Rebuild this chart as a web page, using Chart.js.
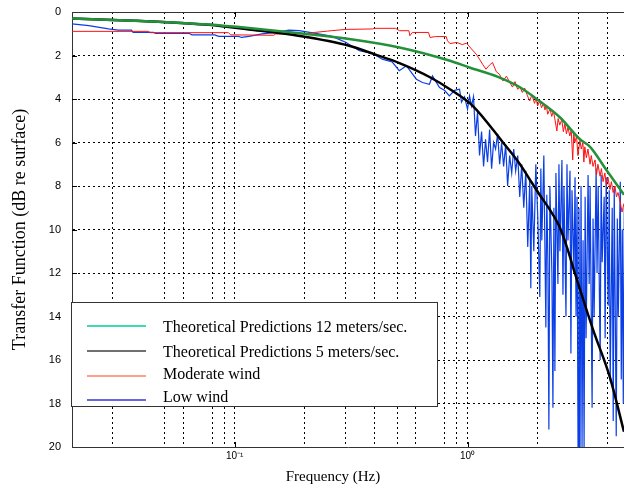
<!DOCTYPE html>
<html>
<head>
<meta charset="utf-8">
<script src="https://cdn.jsdelivr.net/npm/chart.js@4"></script>
<style>
html, body { margin: 0; padding: 0; background: #fff; }
canvas { display: block; }
</style>
</head>
<body>
<canvas id="myChart" width="624" height="489"></canvas>
<script>
"use strict"

// Theorie 12 m/s (gruen)
const freq12 = [0.02, 0.03, 0.047, 0.077, 0.115, 0.19, 0.31, 0.51, 0.84, 1.02, 1.35, 1.68, 1.98, 2.49, 3.04, 3.36, 3.97, 4.7]
const db12 = [0.3, 0.37, 0.45, 0.58, 0.74, 0.98, 1.24, 1.63, 2.24, 2.55, 2.98, 3.46, 4.0, 4.84, 5.85, 6.2, 7.3, 8.4]

// Theorie 5 m/s (schwarz)
const freq5 = [0.02, 0.03, 0.047, 0.077, 0.115, 0.19, 0.31, 0.40, 0.51, 0.69, 0.84, 1.05, 1.42, 1.68, 1.85, 2.04, 2.26, 2.49, 2.67, 2.89, 3.46, 4.09, 4.7]
const db5 = [0.3, 0.37, 0.45, 0.59, 0.8, 1.1, 1.55, 1.95, 2.35, 3.0, 3.55, 4.3, 6.0, 7.0, 7.7, 8.4, 9.1, 9.9, 10.8, 12.0, 14.6, 16.8, 19.3]

// Moderate wind (rot)
const modFreq = [0.02, 0.0426, 0.0434, 0.094, 0.096, 0.147, 0.15, 0.20, 0.22, 0.25, 0.26, 0.30, 0.39, 0.40, 0.49, 0.51, 0.56, 0.565, 0.58, 0.60, 0.68, 0.69, 0.73, 0.81, 0.82, 0.84, 0.90, 0.95, 0.99, 1.04, 1.09, 1.13, 1.16, 1.20, 1.24, 1.28, 1.33, 1.37,
  1.42, 1.47, 1.52, 1.56, 1.60, 1.64, 1.68, 1.72, 1.76, 1.81, 1.85, 1.89, 1.94, 1.97, 2.00, 2.04, 2.08, 2.12, 2.15, 2.18, 2.21, 2.26, 2.30, 2.34, 2.37, 2.42, 2.45, 2.49, 2.54, 2.58, 2.62, 2.66, 2.70, 2.75, 2.79, 2.83, 2.86, 2.89, 2.94, 2.98,
  3.04, 3.08, 3.13, 3.16, 3.19, 3.24, 3.29, 3.36, 3.40, 3.46, 3.53, 3.58, 3.63, 3.71, 3.76, 3.82, 3.89, 3.95, 4.01, 4.09, 4.15, 4.22, 4.30, 4.36, 4.43, 4.52, 4.61, 4.70]
const modDb = [0.89, 0.89, 0.95, 0.95, 1.05, 1.07, 1.01, 1.0, 0.94, 0.88, 0.86, 0.8, 0.78, 0.75, 0.75, 0.86, 0.86, 1.09, 0.94, 0.94, 0.94, 1.17, 1.13, 1.13, 1.32, 1.45, 1.40, 1.50, 1.43, 1.70, 1.94, 2.2, 2.4, 2.63, 2.45, 2.32, 2.75, 2.86,
  3.17, 2.95, 3.25, 3.45, 3.2, 3.55, 3.45, 3.7, 3.5, 3.86, 4.09, 3.8, 4.2, 3.95, 4.32, 4.1, 4.4, 4.2, 4.5, 4.3, 4.7, 4.45, 4.8, 4.55, 4.9, 5.47, 4.9, 5.2, 4.95, 5.5, 5.15, 5.6, 5.3, 5.7, 5.45, 6.8, 5.6, 6.0, 5.7, 6.6,
  5.9, 6.3, 6.0, 6.9, 6.2, 6.7, 6.3, 7.0, 6.6, 7.1, 6.8, 7.5, 7.0, 7.55, 7.2, 7.8, 7.4, 8.0, 7.6, 8.16, 7.8, 8.3, 8.0, 8.5, 8.3, 8.7, 9.2, 8.8]

// Low wind (blau)
const lowFreq = [0.02, 0.0236, 0.0287, 0.0316, 0.036, 0.0366, 0.0448, 0.0457, 0.0636, 0.0655, 0.082, 0.0854, 0.104, 0.107, 0.115, 0.131, 0.150, 0.171, 0.189, 0.223, 0.262, 0.301, 0.343, 0.390, 0.430, 0.475, 0.509, 0.546, 0.603, 0.640, 0.686, 0.707, 0.758, 0.796, 0.836, 0.879, 0.924, 0.942, 0.971,
  1.000, 1.020, 1.040, 1.061, 1.082, 1.104, 1.126, 1.149, 1.172, 1.195, 1.219, 1.244, 1.269, 1.294, 1.320, 1.347, 1.374, 1.401, 1.429, 1.458, 1.487, 1.517, 1.548, 1.579, 1.610, 1.643, 1.676, 1.709, 1.744, 1.779, 1.814, 1.851, 1.87, 1.888, 1.926, 1.965,
  2.004, 2.044, 2.065, 2.085, 2.127, 2.170, 2.19, 2.214, 2.236, 2.258, 2.304, 2.327, 2.350, 2.373, 2.397, 2.445, 2.47, 2.494, 2.544, 2.57, 2.595, 2.648, 2.674, 2.701, 2.755, 2.78, 2.810, 2.867, 2.896, 2.925, 2.954, 2.983,
  3.01, 3.043, 3.073, 3.104, 3.135, 3.167, 3.2, 3.230, 3.295, 3.33, 3.361, 3.429, 3.46, 3.498, 3.568, 3.60, 3.640, 3.713, 3.75, 3.787, 3.863, 3.90, 3.941,
  4.020, 4.06, 4.101, 4.183, 4.225, 4.267, 4.353, 4.40, 4.440, 4.530, 4.575, 4.621, 4.667, 4.714]
const lowDb = [0.55, 0.63, 0.78, 0.83, 0.83, 0.94, 0.94, 0.98, 0.98, 1.05, 1.05, 1.12, 1.12, 1.17, 1.12, 1.01, 0.94, 0.83, 0.86, 0.98, 1.12, 1.40, 1.78, 1.9, 2.17, 2.3, 2.7, 2.47, 3.09, 3.24, 3.32, 2.94, 3.47, 3.6, 3.86, 3.6, 3.55, 4.15, 3.9,
  4.47, 3.86, 4.32, 3.9, 5.7, 4.6, 6.6, 5.5, 7.1, 5.85, 6.9, 5.4, 7.2, 6.0, 6.3, 5.6, 7.0, 6.0, 7.1, 6.1, 8.0, 6.6, 7.4, 6.3, 7.3, 6.6, 8.5, 7.0, 9.0, 7.3, 10.8, 7.7, 12.7, 8.0, 11.0, 7.0,
  9.5, 13.1, 7.2, 10.5, 6.6, 14.5, 8.4, 11.5, 19.2, 8.0, 12.0, 18.2, 9.0, 16.5, 7.4, 12.5, 7.0, 11.0, 6.8, 13.0, 8.0, 14.0, 7.0, 10.5, 7.3, 15.7, 8.2, 12.0, 7.6, 14.0, 8.5, 20.0,
  9.0, 20.0, 8.0, 20.0, 10.5, 20.0, 8.5, 15.0, 7.5, 12.5, 8.0, 18.2, 9.5, 14.0, 7.2, 12.0, 8.0, 16.0, 7.5, 11.5, 8.5, 15.0, 7.6,
  13.5, 8.2, 17.0, 9.0, 18.8, 8.0, 19.5, 9.5, 14.0, 7.8, 16.9, 10.0, 18.0, 9.0]

// Achsen
const xGridValues = [0.03, 0.05, 0.06, 0.08, 0.09, 0.1, 0.2, 0.3, 0.4, 0.5, 0.6, 0.8, 0.9, 1, 2, 3, 4]
const xLabelValues = [0.1, 1]
const xLabelTexts = ['10\u207B\u00B9', '10\u2070']
const xMin = 0.02
const xMax = 4.7
const yMin = 0
const yMax = 20

// Legende
const legendLabels = ['Theoretical Predictions 12 meters/sec.', 'Theoretical Predictions 5 meters/sec.', 'Moderate wind', 'Low wind']
const legendColors = ['#00cc99', '#404040', '#ff7f66', '#3535d8']

function pts(xs, ys) {
    return xs.map((x, i) => ({ x: x, y: ys[i] }))
}

// Rahmen, Ticks, Legende und x-Titel
const extras = {
    id: 'extras',
    afterDatasetsDraw(chart) {
        const ctx = chart.ctx
        const a = chart.chartArea
        const xs = chart.scales.x
        const ys = chart.scales.y
        ctx.save()
        ctx.strokeStyle = '#333'
        ctx.lineWidth = 1
        ctx.beginPath()
        ctx.moveTo(a.left, a.top + 0.5)
        ctx.lineTo(a.right, a.top + 0.5)
        ctx.stroke()

        // kleine Ticks nach innen
        ctx.strokeStyle = '#000'
        ctx.beginPath()
        for (let v = 2; v < yMax; v += 2) {
            const y = Math.round(ys.getPixelForValue(v)) + 0.5
            ctx.moveTo(a.left, y)
            ctx.lineTo(a.left + 5, y)
        }
        xLabelValues.forEach(v => {
            const x = Math.round(xs.getPixelForValue(v)) + 0.5
            ctx.moveTo(x, a.bottom)
            ctx.lineTo(x, a.bottom - 5)
            ctx.moveTo(x, a.top)
            ctx.lineTo(x, a.top + 5)
        })
        ctx.stroke()

        // Legende
        const bx = 71.5, by = 302.5, bw = 366, bh = 104
        ctx.fillStyle = '#fff'
        ctx.fillRect(bx, by, bw, bh)
        ctx.strokeStyle = '#333'
        ctx.strokeRect(bx, by, bw, bh)
        const rowY = [326, 351, 376, 400]
        const textY = [328, 353, 375, 398]
        ctx.font = '16px "Liberation Serif"'
        ctx.textBaseline = 'middle'
        ctx.textAlign = 'left'
        for (let i = 0; i < legendLabels.length; i++) {
            ctx.strokeStyle = legendColors[i]
            ctx.lineWidth = 1.5
            ctx.beginPath()
            ctx.moveTo(87, rowY[i])
            ctx.lineTo(146, rowY[i])
            ctx.stroke()
            ctx.fillStyle = '#000'
            ctx.fillText(legendLabels[i], 163, textY[i])
        }

        // x-Achsentitel
        ctx.font = '15px "Liberation Serif"'
        ctx.textAlign = 'center'
        ctx.fillText('Frequency (Hz)', 333, 477)
        ctx.restore()
    }
}

const config = {
    type: 'line',
    data: {
        datasets: [
            { label: legendLabels[0], data: pts(freq12, db12), borderColor: '#22913a', borderWidth: 2.5, cubicInterpolationMode: 'monotone' },
            { label: legendLabels[1], data: pts(freq5, db5), borderColor: '#000', borderWidth: 2.5, cubicInterpolationMode: 'monotone' },
            { label: legendLabels[2], data: pts(modFreq, modDb), borderColor: '#ff1010', borderWidth: 1 },
            { label: legendLabels[3], data: pts(lowFreq, lowDb), borderColor: '#0a3ee6', borderWidth: 1.2 }
        ]
    },
    options: {
        responsive: false,
        animation: false,
        events: [],
        elements: { point: { radius: 0 }, line: { tension: 0 } },
        layout: { padding: { top: 12, right: 0, left: 0, bottom: 0 } },
        plugins: { legend: { display: false }, tooltip: { enabled: false } },
        scales: {
            x: {
                type: 'logarithmic',
                min: xMin,
                max: xMax,
                afterBuildTicks: scale => { scale.ticks = xGridValues.map(v => ({ value: v })) },
                afterFit: scale => { scale.height = 42; scale.paddingLeft = 0; scale.paddingRight = 0 },
                ticks: {
                    autoSkip: false,
                    maxRotation: 0,
                    padding: 3,
                    color: '#000',
                    font: { family: 'Liberation Sans', size: 10 },
                    callback: (v) => {
                        const i = xLabelValues.findIndex(d => Math.abs(d - v) < 1e-9)
                        return i >= 0 ? xLabelTexts[i] : ''
                    }
                },
                grid: { color: '#000', lineWidth: 1, drawTicks: false },
                border: { display: true, color: '#333', width: 1, dash: [2, 3] }
            },
            y: {
                reverse: true,
                min: yMin,
                max: yMax,
                afterFit: scale => { scale.width = 72; scale.paddingTop = 0; scale.paddingBottom = 0 },
                ticks: { stepSize: 2, padding: 11, color: '#000', font: { family: 'Liberation Sans', size: 11 } },
                grid: {
                    drawTicks: false,
                    lineWidth: 1,
                    color: c => (c.tick && (c.tick.value === yMin || c.tick.value === yMax)) ? 'rgba(0,0,0,0)' : '#000'
                },
                border: { display: true, color: '#333', width: 1, dash: [2, 3] },
                title: {
                    display: true,
                    text: 'Transfer Function (dB re surface)',
                    color: '#000',
                    font: { family: 'Liberation Serif', size: 18 },
                    padding: { top: 9, bottom: 0 }
                }
            }
        }
    },
    plugins: [extras]
}

const my_chart = new Chart(document.getElementById('myChart'), config)
</script>
</body>
</html>
